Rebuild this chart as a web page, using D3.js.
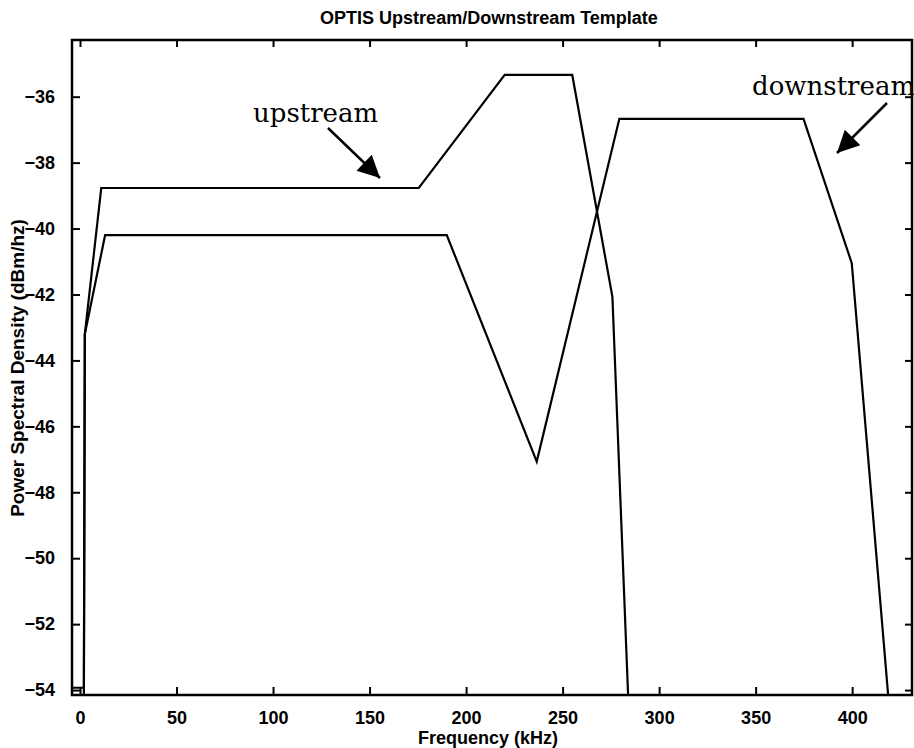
<!DOCTYPE html>
<html>
<head>
<meta charset="utf-8">
<script src="https://cdn.jsdelivr.net/npm/d3@7"></script>
<style>
  body { margin: 0; background: #fff; }
  svg text { font-family: "Liberation Sans", Arial, sans-serif; fill: #000; }
  .tick text { font-size: 18px; font-weight: bold; }
  .note { font-family: "DejaVu Serif", "Liberation Serif", serif; font-size: 26px; }
</style>
</head>
<body>
<div id="chart"></div>
<script>
// values
const upFreq = [-4.1, 2, 2.5, 11, 175.5, 220, 255, 275.8, 284.1];
const upPsd = [-53.93, -53.93, -43.2, -38.77, -38.77, -35.34, -35.34, -42.07, -54.4];

const downFreq = [2, 2.5, 13, 190, 236.6, 279.4, 374.8, 399.8, 419];
const downPsd = [-54.4, -43.2, -40.2, -40.2, -47.07, -36.67, -36.67, -41.05, -54.4];

const xTicks = [0, 50, 100, 150, 200, 250, 300, 350, 400];
const yTicks = [-36, -38, -40, -42, -44, -46, -48, -50, -52, -54];

const width = 914, height = 748;
const m = { left: 72, right: 912, top: 40, bottom: 695 };

const svg = d3.select('#chart').append('svg')
  .attr('width', width)
  .attr('height', height);

const x = d3.scaleLinear().domain([-4.15, 431]).range([m.left, m.right]);
const y = d3.scaleLinear().domain([-54.15, -34.28]).range([m.bottom, m.top]);

const fmt = d => d < 0 ? '\u2212' + Math.abs(d) : '' + d;

// axes, ticks pointing inward like matlab
svg.append('g')
  .attr('transform', 'translate(0,' + m.bottom + ')')
  .call(d3.axisBottom(x).tickValues(xTicks).tickSize(-8).tickSizeOuter(0).tickPadding(16).tickFormat(fmt));

svg.append('g')
  .attr('transform', 'translate(0,' + m.top + ')')
  .call(d3.axisTop(x).tickValues(xTicks).tickSize(-7).tickSizeOuter(0).tickFormat(''));

svg.append('g')
  .attr('transform', 'translate(' + m.left + ',0)')
  .call(d3.axisLeft(y).tickValues(yTicks).tickSize(-8).tickSizeOuter(0).tickPadding(17).tickFormat(fmt));

svg.append('g')
  .attr('transform', 'translate(' + m.right + ',0)')
  .call(d3.axisRight(y).tickValues(yTicks).tickSize(-7).tickSizeOuter(0).tickFormat(''));

svg.selectAll('.domain').remove();
svg.selectAll('.tick line').attr('stroke', '#000').attr('stroke-width', 2);

svg.append('rect')
  .attr('x', m.left).attr('y', m.top)
  .attr('width', m.right - m.left).attr('height', m.bottom - m.top)
  .attr('fill', 'none').attr('stroke', '#000').attr('stroke-width', 2.5);

svg.append('clipPath').attr('id', 'plot')
  .append('rect')
  .attr('x', m.left).attr('y', m.top)
  .attr('width', m.right - m.left).attr('height', m.bottom - m.top);

const line = d3.line()
  .x(d => x(d[0]))
  .y(d => y(d[1]));

const series = [d3.zip(upFreq, upPsd), d3.zip(downFreq, downPsd)];

svg.append('g').attr('clip-path', 'url(#plot)')
  .selectAll('path')
  .data(series)
  .enter().append('path')
  .attr('d', line)
  .attr('fill', 'none')
  .attr('stroke', '#000')
  .attr('stroke-width', 2.2)
  .attr('stroke-linejoin', 'miter');

// titles
svg.append('text')
  .attr('x', 489).attr('y', 24)
  .attr('text-anchor', 'middle')
  .style('font-size', '18px').style('font-weight', 'bold')
  .text('OPTIS Upstream/Downstream Template');

svg.append('text')
  .attr('x', 488).attr('y', 744)
  .attr('text-anchor', 'middle')
  .style('font-size', '18px').style('font-weight', 'bold')
  .text('Frequency (kHz)');

svg.append('text')
  .attr('transform', 'translate(24,' + 368 + ') rotate(-90)')
  .attr('text-anchor', 'middle')
  .style('font-size', '19px').style('font-weight', 'bold')
  .text('Power Spectral Density (dBm/hz)');

// annotations with arrows
svg.append('defs').append('marker')
  .attr('id', 'head')
  .attr('viewBox', '0 0 10 10')
  .attr('refX', 10).attr('refY', 5)
  .attr('markerWidth', 28).attr('markerHeight', 22)
  .attr('markerUnits', 'userSpaceOnUse')
  .attr('orient', 'auto')
  .append('path').attr('d', 'M0,0L10,5L0,10z').attr('fill', '#000');

svg.append('text').attr('class', 'note')
  .attr('x', 253).attr('y', 122)
  .text('upstream');

svg.append('text').attr('class', 'note')
  .attr('x', 752).attr('y', 95)
  .text('downstream');

const arrows = [[[328, 128], [380, 178]], [[887, 103], [837, 153]]];
svg.selectAll('.arrow')
  .data(arrows)
  .enter().append('line')
  .attr('class', 'arrow')
  .attr('x1', d => d[0][0]).attr('y1', d => d[0][1])
  .attr('x2', d => d[1][0]).attr('y2', d => d[1][1])
  .attr('stroke', '#000').attr('stroke-width', 2.5)
  .attr('marker-end', 'url(#head)');
</script>
</body>
</html>
